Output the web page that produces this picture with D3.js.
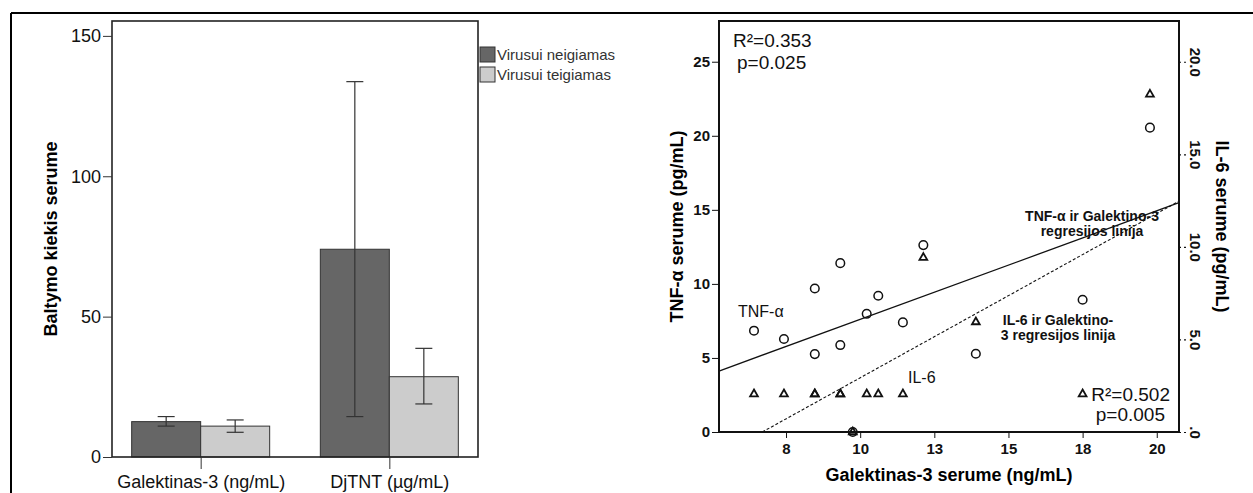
<!DOCTYPE html>
<html>
<head>
<meta charset="utf-8">
<script src="https://cdn.jsdelivr.net/npm/d3@7"></script>
<style>
  body { margin: 0; background: #fff; }
  svg { display: block; font-family: "Liberation Sans", Arial, sans-serif; }
</style>
</head>
<body>
<svg id="chart"></svg>
<script>
// ---- bar chart data (left panel) ----
const categories = ['Galektinas-3 (ng/mL)', 'DjTNT (\u00b5g/mL)'];
const groups = ['Virusui neigiamas', 'Virusui teigiamas'];
const negMean = [12.6, 74.0];
const negLow = [11.0, 14.4];
const negHigh = [14.4, 133.7];
const posMean = [11.0, 28.6];
const posLow = [8.8, 18.9];
const posHigh = [13.2, 38.7];
const barTicks = [0, 50, 100, 150];

// ---- scatter data (right panel) ----
const galectin = [6.42, 7.43, 8.47, 8.47, 9.33, 9.33, 10.22, 10.61, 11.44, 12.13, 9.75, 17.50, 13.90, 19.77];
const tnf = [6.84, 6.28, 5.26, 9.69, 11.40, 5.87, 7.98, 9.20, 7.40, 12.62, 0, 8.93, 5.28, 20.55];
const il6 = [2.05, 2.05, 2.05, 2.05, 2.05, 2.05, 2.05, 2.05, 2.05, 9.42, 0, 2.05, 5.94, 18.24];
const xTicks = [7.5, 10, 12.5, 15, 17.5, 20];
const xTickLabels = ['8', '10', '13', '15', '18', '20'];
const tnfTicks = [0, 5, 10, 15, 20, 25];
const il6Ticks = [0, 5, 10, 15, 20];
const il6TickLabels = ['.0', '5.0', '10.0', '15.0', '20.0'];

const W = 1253, H = 493;
const svg = d3.select('#chart').attr('width', W).attr('height', H);

// outer frame (only top and left visible)
svg.append('line').attr('x1', 11).attr('x2', W).attr('y1', 13).attr('y2', 13)
    .attr('stroke', '#000').attr('stroke-width', 2);
svg.append('line').attr('x1', 11).attr('x2', 11).attr('y1', 13).attr('y2', H)
    .attr('stroke', '#000').attr('stroke-width', 2);

// ================= left panel =================
const bar = { left: 112, right: 478, top: 21, bottom: 457 };
const dark = '#666666', light = '#cccccc';

let yb = d3.scaleLinear().domain([0, 155.3]).range([bar.bottom, bar.top]);
let xb = d3.scalePoint().domain(categories).range([bar.left, bar.right]).padding(0.47);
const barW = 69;

let gb = svg.append('g');

// bars
let barData = [];
categories.forEach((c, i) => {
    barData.push({ cat: c, side: -1, mean: negMean[i], lo: negLow[i], hi: negHigh[i], fill: dark });
    barData.push({ cat: c, side: 0, mean: posMean[i], lo: posLow[i], hi: posHigh[i], fill: light });
});

gb.selectAll('.bar').data(barData).enter().append('rect')
    .attr('class', 'bar')
    .attr('x', d => xb(d.cat) + d.side * barW)
    .attr('y', d => yb(d.mean))
    .attr('width', barW)
    .attr('height', d => yb(0) - yb(d.mean))
    .attr('fill', d => d.fill)
    .attr('stroke', '#333')
    .attr('stroke-width', 1);

// error bars
let eb = gb.selectAll('.err').data(barData).enter().append('g').attr('class', 'err')
    .attr('stroke', '#333').attr('stroke-width', 1.2);
const capW = 8.5;
eb.append('line')
    .attr('x1', d => xb(d.cat) + d.side * barW + barW / 2)
    .attr('x2', d => xb(d.cat) + d.side * barW + barW / 2)
    .attr('y1', d => yb(d.lo)).attr('y2', d => yb(d.hi));
eb.append('line')
    .attr('x1', d => xb(d.cat) + d.side * barW + barW / 2 - capW)
    .attr('x2', d => xb(d.cat) + d.side * barW + barW / 2 + capW)
    .attr('y1', d => yb(d.hi)).attr('y2', d => yb(d.hi));
eb.append('line')
    .attr('x1', d => xb(d.cat) + d.side * barW + barW / 2 - capW)
    .attr('x2', d => xb(d.cat) + d.side * barW + barW / 2 + capW)
    .attr('y1', d => yb(d.lo)).attr('y2', d => yb(d.lo));

// frame
gb.append('rect')
    .attr('x', bar.left).attr('y', bar.top)
    .attr('width', bar.right - bar.left).attr('height', bar.bottom - bar.top)
    .attr('fill', 'none').attr('stroke', '#222').attr('stroke-width', 1.6);

// axes
let yAxisB = d3.axisLeft(yb).tickValues(barTicks).tickSize(9).tickPadding(2).tickFormat(d3.format('d'));
gb.append('g').attr('transform', `translate(${bar.left},0)`).call(yAxisB)
    .call(g => g.select('.domain').remove())
    .call(g => g.selectAll('line').attr('stroke', '#333'))
    .call(g => g.selectAll('text').attr('font-size', 18).attr('fill', '#111').attr('font-family', 'Liberation Sans'));

let xAxisB = d3.axisBottom(xb).tickSize(12).tickPadding(6);
gb.append('g').attr('transform', `translate(0,${bar.bottom})`).call(xAxisB)
    .call(g => g.select('.domain').remove())
    .call(g => g.selectAll('line').attr('stroke', '#333'))
    .call(g => g.selectAll('text').attr('font-size', 18).attr('fill', '#111').attr('font-family', 'Liberation Sans'));

gb.append('text')
    .attr('transform', `translate(57, ${(bar.top + bar.bottom) / 2}) rotate(-90)`)
    .attr('text-anchor', 'middle')
    .attr('font-size', 18).attr('font-weight', 'bold')
    .text('Baltymo kiekis serume');

// legend
let leg = gb.selectAll('.leg').data(groups).enter().append('g')
    .attr('transform', (d, i) => `translate(480, ${47 + i * 20})`);
leg.append('rect').attr('width', 15).attr('height', 15)
    .attr('fill', (d, i) => i === 0 ? dark : light)
    .attr('stroke', '#333').attr('stroke-width', 1);
leg.append('text').attr('x', 17).attr('y', 12.5)
    .attr('font-size', 15).attr('fill', '#333')
    .text(d => d);

// ================= right panel =================
const sc = { left: 719, right: 1179, top: 21, bottom: 432 };
let xs = d3.scaleLinear().domain([5.24, 20.75]).range([sc.left, sc.right]);
let yl = d3.scaleLinear().domain([0, 27.75]).range([sc.bottom, sc.top]);
let yr = d3.scaleLinear().domain([0, 22.2]).range([sc.bottom, sc.top]);

let gs = svg.append('g');

// regression lines computed from the data
function linFit(xs_, ys_) {
    let mx = d3.mean(xs_), my = d3.mean(ys_);
    let sxy = d3.sum(xs_, (x, i) => (x - mx) * (ys_[i] - my));
    let sxx = d3.sum(xs_, x => (x - mx) * (x - mx));
    let b = sxy / sxx;
    return { a: my - b * mx, b: b };
}
function segment(fit, yscale) {
    let [x0, x1] = xs.domain();
    let [y0, y1] = yscale.domain();
    // clip to plot area
    if (fit.a + fit.b * x0 < y0) x0 = (y0 - fit.a) / fit.b;
    if (fit.a + fit.b * x1 > y1) x1 = (y1 - fit.a) / fit.b;
    return [[x0, fit.a + fit.b * x0], [x1, fit.a + fit.b * x1]];
}
let tnfFit = linFit(galectin, tnf);
let il6Fit = linFit(galectin, il6);

let lineL = d3.line().x(d => xs(d[0])).y(d => yl(d[1]));
let lineR = d3.line().x(d => xs(d[0])).y(d => yr(d[1]));

gs.append('path').attr('d', lineL(segment(tnfFit, yl)))
    .attr('fill', 'none').attr('stroke', '#111').attr('stroke-width', 1.3);
gs.append('path').attr('d', lineR(segment(il6Fit, yr)))
    .attr('fill', 'none').attr('stroke', '#111').attr('stroke-width', 1.1)
    .attr('stroke-dasharray', '3,2');

// points
let pts = galectin.map((g, i) => ({ g: g, t: tnf[i], l: il6[i] }));
gs.selectAll('.tri').data(pts).enter().append('path')
    .attr('class', 'tri')
    .attr('d', d3.symbol().type(d3.symbolTriangle).size(26))
    .attr('transform', d => `translate(${xs(d.g)},${yr(d.l)})`)
    .attr('fill', 'none').attr('stroke', '#111').attr('stroke-width', 1.8);
gs.selectAll('.dot').data(pts).enter().append('circle')
    .attr('class', 'dot')
    .attr('cx', d => xs(d.g)).attr('cy', d => yl(d.t)).attr('r', 4.3)
    .attr('fill', 'none').attr('stroke', '#111').attr('stroke-width', 1.5);

// frame
gs.append('rect')
    .attr('x', sc.left).attr('y', sc.top)
    .attr('width', sc.right - sc.left).attr('height', sc.bottom - sc.top)
    .attr('fill', 'none').attr('stroke', '#111').attr('stroke-width', 2);

// axes
let yAxisL = d3.axisLeft(yl).tickValues(tnfTicks).tickSize(7).tickPadding(2);
gs.append('g').attr('transform', `translate(${sc.left},0)`).call(yAxisL)
    .call(g => g.select('.domain').remove())
    .call(g => g.selectAll('line').attr('stroke', '#111'))
    .call(g => g.selectAll('text').attr('font-size', 15).attr('font-weight', 'bold')
        .attr('fill', '#111').attr('font-family', 'Liberation Sans'));

let xAxisS = d3.axisBottom(xs).tickValues(xTicks).tickSize(6).tickPadding(5)
    .tickFormat((d, i) => xTickLabels[i]);
gs.append('g').attr('transform', `translate(0,${sc.bottom})`).call(xAxisS)
    .call(g => g.select('.domain').remove())
    .call(g => g.selectAll('line').attr('stroke', '#111'))
    .call(g => g.selectAll('text').attr('font-size', 15).attr('font-weight', 'bold')
        .attr('fill', '#111').attr('font-family', 'Liberation Sans'));

let yAxisR = d3.axisRight(yr).tickValues(il6Ticks).tickSize(8).tickFormat((d, i) => il6TickLabels[i]);
let gr = gs.append('g').attr('transform', `translate(${sc.right},0)`).call(yAxisR);
gr.select('.domain').remove();
gr.selectAll('line').attr('stroke', '#111').attr('stroke-dasharray', '2,3').attr('stroke-width', 1.2);
gr.selectAll('text')
    .attr('x', null).attr('dy', null)
    .attr('transform', 'translate(11,0) rotate(90)')
    .attr('text-anchor', 'middle')
    .attr('font-size', 15).attr('font-weight', 'bold')
    .attr('fill', '#111').attr('font-family', 'Liberation Sans');

// axis titles
gs.append('text')
    .attr('transform', `translate(683, ${(sc.top + sc.bottom) / 2}) rotate(-90)`)
    .attr('text-anchor', 'middle').attr('font-size', 18).attr('font-weight', 'bold')
    .text('TNF-\u03b1 serume (pg/mL)');
gs.append('text')
    .attr('transform', `translate(1216, ${(sc.top + sc.bottom) / 2}) rotate(90)`)
    .attr('text-anchor', 'middle').attr('font-size', 18).attr('font-weight', 'bold')
    .text('IL-6 serume (pg/mL)');
gs.append('text')
    .attr('x', (sc.left + sc.right) / 2 + 0).attr('y', 481)
    .attr('text-anchor', 'middle').attr('font-size', 18).attr('font-weight', 'bold')
    .text('Galektinas-3 serume (ng/mL)');

// annotations
let ann = gs.append('g').attr('fill', '#111');
ann.append('text').attr('x', sc.left + 14).attr('y', 47).attr('font-size', 19).text('R\u00b2=0.353');
ann.append('text').attr('x', sc.left + 18).attr('y', 69).attr('font-size', 19).text('p=0.025');
ann.append('text').attr('x', 738).attr('y', 317).attr('font-size', 16).text('TNF-\u03b1');
ann.append('text').attr('x', 908).attr('y', 383).attr('font-size', 16).text('IL-6');
ann.append('text').attr('x', 1092).attr('y', 221).attr('text-anchor', 'middle')
    .attr('font-size', 14).attr('font-weight', 'bold').text('TNF-\u03b1 ir Galektino-3');
ann.append('text').attr('x', 1092).attr('y', 236).attr('text-anchor', 'middle')
    .attr('font-size', 14).attr('font-weight', 'bold').text('regresijos linija');
ann.append('text').attr('x', 1058).attr('y', 325).attr('text-anchor', 'middle')
    .attr('font-size', 14).attr('font-weight', 'bold').text('IL-6 ir Galektino-');
ann.append('text').attr('x', 1058).attr('y', 340).attr('text-anchor', 'middle')
    .attr('font-size', 14).attr('font-weight', 'bold').text('3 regresijos linija');
ann.append('text').attr('x', sc.right - 9).attr('y', 401).attr('text-anchor', 'end')
    .attr('font-size', 19).text('R\u00b2=0.502');
ann.append('text').attr('x', sc.right - 14).attr('y', 421).attr('text-anchor', 'end')
    .attr('font-size', 19).text('p=0.005');
</script>
</body>
</html>
